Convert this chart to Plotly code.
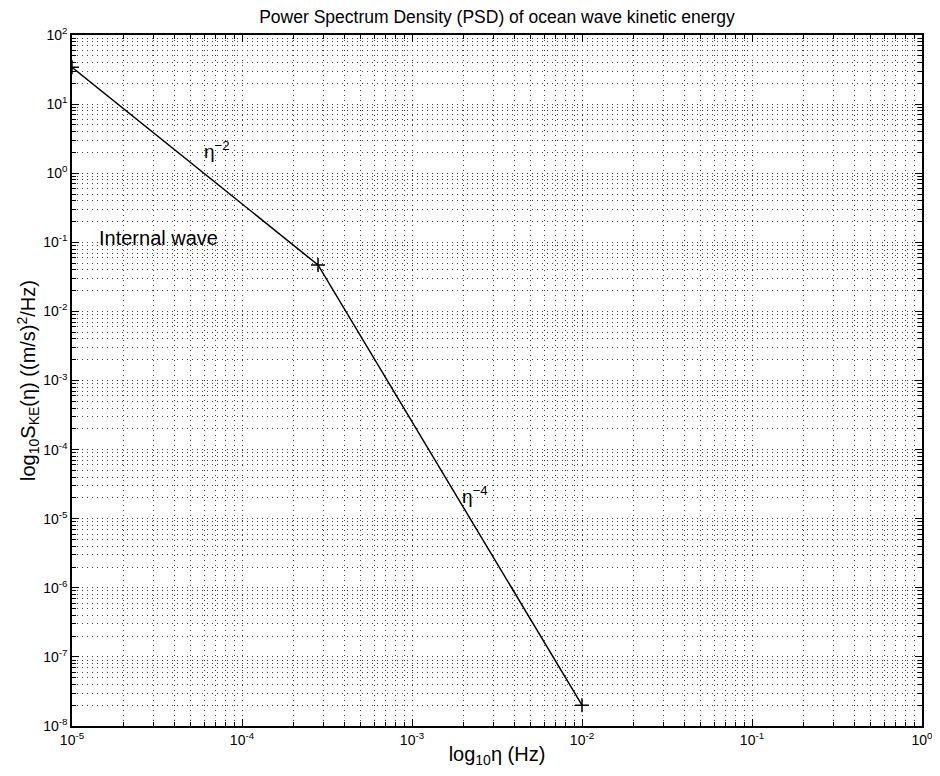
import plotly.graph_objects as go

# Frequency (Hz) and PSD values at the break points of the spectrum
freq_hz = [1e-5, 2.8e-4, 1e-2]
psd_ke = [34, 0.047, 2.0e-8]

x_decades = [-5, -4, -3, -2, -1, 0]
y_decades = [-8, -7, -6, -5, -4, -3, -2, -1, 0, 1, 2]

title_text = "Power Spectrum Density (PSD) of ocean wave kinetic energy"
x_label = "log<sub>10</sub>η (Hz)"
y_label = "log<sub>10</sub>S<sub>KE</sub>(η) ((m/s)<sup>2</sup>/Hz)"

font_family = "Liberation Sans, Arial, Helvetica, sans-serif"


def axis_style(decades):
    major = [10.0 ** d for d in decades]
    labels = ["10<sup>%d</sup>" % d for d in decades]
    minor = [k * 10.0 ** d for d in decades[:-1] for k in range(2, 10)]
    return dict(
        type="log", range=[decades[0], decades[-1]], automargin=False,
        tickmode="array", tickvals=major, ticktext=labels, ticklabeloverflow="allow",
        showline=True, linecolor="black", linewidth=1.5, mirror="allticks",
        ticks="inside", ticklen=7, tickcolor="black",
        showgrid=True, gridcolor="#444", griddash="1px,4px", gridwidth=1,
        minor=dict(tickmode="array", tickvals=minor, ticks="inside", ticklen=4,
                   tickcolor="black", showgrid=True, gridcolor="#444",
                   griddash="1px,4px", gridwidth=1),
        zeroline=False,
        tickfont=dict(size=14, color="black", family=font_family),
    )


fig = go.Figure()
fig.add_trace(go.Scatter(
    x=freq_hz, y=psd_ke, mode="lines+markers",
    line=dict(color="black", width=1.5),
    marker=dict(symbol="cross-thin", size=10, line=dict(color="black", width=1.5)),
    showlegend=False,
))

# text labels on the plot (x, y given as log10 positions)
fig.add_annotation(x=-4.235, y=0.34, text="η<sup>−2</sup>", showarrow=False,
                   xanchor="left", font=dict(size=19))
fig.add_annotation(x=-4.854, y=-0.94, text="Internal wave", showarrow=False,
                   xanchor="left", font=dict(size=20))
fig.add_annotation(x=-2.716, y=-4.66, text="η<sup>−4</sup>", showarrow=False,
                   xanchor="left", font=dict(size=19))

fig.update_layout(
    width=924, height=760,
    margin=dict(l=64, r=10, t=27, b=42),
    paper_bgcolor="white", plot_bgcolor="white",
    font=dict(family=font_family, color="black"),
    title=dict(text=title_text, xref="paper", x=0.5, xanchor="center",
               yref="container", y=0.988, yanchor="middle", font=dict(size=17.5)),
    xaxis=axis_style(x_decades),
    yaxis=axis_style(y_decades),
)
fig.update_xaxes(title=dict(text=x_label, font=dict(size=20), standoff=0))
fig.update_yaxes(title=dict(text=y_label, font=dict(size=20), standoff=2))

fig.write_html("out.html")
